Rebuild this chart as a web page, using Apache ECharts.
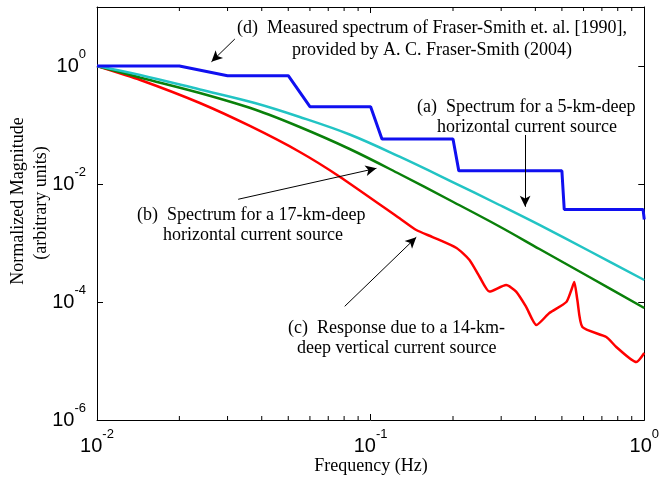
<!DOCTYPE html>
<html>
<head>
<meta charset="utf-8">
<script src="https://cdn.jsdelivr.net/npm/echarts@6/dist/echarts.min.js"></script>
<style>
html,body{margin:0;padding:0;background:#fff;}
#chart{width:662px;height:481px;}
</style>
</head>
<body>
<div id="chart"></div>
<script>
// ---- data ----
const freqAB = [0.01, 0.01436, 0.02376, 0.03772, 0.05507, 0.08383, 0.1276, 0.1942, 0.2957, 0.4139, 0.63, 1.0];
const magA = [1.0, 0.704, 0.3997, 0.236, 0.1367, 0.069, 0.02904, 0.01146, 0.004406, 0.00202, 0.000732, 0.000236];
const magB = [1.0, 0.6385, 0.3485, 0.1831, 0.0925, 0.0392, 0.01477, 0.005356, 0.001905, 0.000791, 0.000265, 0.0000791];
const freqC = [0.01, 0.0144, 0.02376, 0.0362, 0.0551, 0.0771, 0.1276, 0.1468, 0.1684, 0.206, 0.2298, 0.25, 0.2718, 0.3128, 0.3402, 0.37, 0.4035, 0.45, 0.519, 0.5415, 0.555, 0.5695, 0.594, 0.7266, 0.79, 0.935, 1.0];
const magC = [1.0, 0.579, 0.236, 0.0962, 0.0349, 0.0133, 0.00262, 0.00166, 0.00126, 0.000822, 0.000515, 0.000268, 0.00015, 0.000194, 0.00015, 0.000083, 0.0000407, 0.000065, 0.0001, 0.00016, 0.000218, 0.000108, 0.0000377, 0.0000255, 0.0000173, 0.0000096, 0.0000137];
const freqD = [0.01, 0.02, 0.03, 0.05, 0.06, 0.1, 0.11, 0.2, 0.21, 0.5, 0.51, 0.99, 1.0];
const magD = [1.0, 1.0, 0.686, 0.686, 0.204, 0.204, 0.058, 0.058, 0.0167, 0.0167, 0.0037, 0.0037, 0.0025];
const xMin = 0.01, xMax = 1;
const yMin = 1e-6, yMax = 10;
const xMinorTicks = [0.02,0.03,0.04,0.05,0.06,0.07,0.08,0.09,0.2,0.3,0.4,0.5,0.6,0.7,0.8,0.9];
// annotation arrows: [fromFreq, fromMag, toFreq, toMag]
const arrowD = [0.0319, 2.87, 0.0262, 1.18];
const arrowA = [0.367, 0.0678, 0.367, 0.00412];
const arrowB = [0.0328, 0.00551, 0.105, 0.01845];
const arrowC = [0.0804, 0.0000845, 0.1468, 0.00125];

const zip = (xs, ys) => xs.map((x, i) => [x, ys[i]]);
const serif = '"Liberation Serif", "Times New Roman", serif';
const sans = '"Liberation Sans", Arial, sans-serif';

function powLabel(v) {
  return Math.round(Math.log10(v));
}
const richLabel = {
  b: { fontFamily: sans, fontSize: 20, color: '#000', lineHeight: 36 },
  s: { fontFamily: sans, fontSize: 13, color: '#000', lineHeight: 13, verticalAlign: 'top' }
};

const chart = echarts.init(document.getElementById('chart'), null, { renderer: 'canvas' });

const axisCommon = {
  axisLine: { show: true, lineStyle: { color: '#000', width: 1 } },
  axisTick: { show: true, inside: true, length: 6, lineStyle: { color: '#000', width: 1 } },
  splitLine: { show: false },
  minorTick: { show: false },
  minorSplitLine: { show: false }
};

function arrowLine(a) {
  return [{ coord: [a[0], a[1]] }, { coord: [a[2], a[3]] }];
}

const txt = (text, x, y) => ({
  type: 'text', x: x, y: y, silent: true,
  style: { text: text, font: '18px ' + serif, fill: '#000', textAlign: 'left', textVerticalAlign: 'middle' }
});

chart.setOption({
  animation: false,
  backgroundColor: '#fff',
  grid: { left: 97, right: 17, top: 7, bottom: 61, containLabel: false },
  xAxis: [
    Object.assign({}, axisCommon, {
      type: 'log', logBase: 10, min: xMin, max: xMax, position: 'bottom',
      axisLabel: {
        show: true, margin: 8,
        formatter: v => '{b|10}{s|' + powLabel(v) + '}',
        rich: richLabel
      }
    }),
    Object.assign({}, axisCommon, {
      type: 'log', logBase: 10, min: xMin, max: xMax, position: 'top',
      axisLabel: { show: false }
    })
  ],
  yAxis: [
    Object.assign({}, axisCommon, {
      type: 'log', logBase: 10, min: yMin, max: yMax, interval: 2, position: 'left',
      axisLabel: {
        show: true, margin: 11,
        formatter: v => { const e = powLabel(v); return (e % 2 !== 0) ? '' : '{b|10}{s|' + e + '}'; },
        rich: richLabel
      }
    }),
    Object.assign({}, axisCommon, {
      type: 'log', logBase: 10, min: yMin, max: yMax, interval: 2, position: 'right',
      axisLabel: { show: false }
    })
  ],
  series: [
    {
      type: 'custom', xAxisIndex: 0, yAxisIndex: 0, silent: true, clip: false, z: 5,
      data: xMinorTicks.map(v => [v, yMin]),
      renderItem: function (params, api) {
        const pb = api.coord([api.value(0), yMin]);
        const pt = api.coord([api.value(0), yMax]);
        return {
          type: 'group', children: [
            { type: 'line', shape: { x1: pb[0], y1: pb[1], x2: pb[0], y2: pb[1] - 4 }, style: { stroke: '#000', lineWidth: 1 } },
            { type: 'line', shape: { x1: pt[0], y1: pt[1], x2: pt[0], y2: pt[1] + 4 }, style: { stroke: '#000', lineWidth: 1 } }
          ]
        };
      }
    },
    {
      name: '(c)', type: 'line', data: zip(freqC, magC), showSymbol: false, symbol: 'none', smooth: 0.2,
      lineStyle: { color: '#ff0000', width: 2.5 }, z: 2
    },
    {
      name: '(b)', type: 'line', data: zip(freqAB, magB), showSymbol: false, symbol: 'none', smooth: 0.35,
      lineStyle: { color: '#0a800a', width: 2.5 }, z: 3
    },
    {
      name: '(a)', type: 'line', data: zip(freqAB, magA), showSymbol: false, symbol: 'none', smooth: 0.35,
      lineStyle: { color: '#22c4c4', width: 2.5 }, z: 3
    },
    {
      name: '(d)', type: 'line', data: zip(freqD, magD), showSymbol: false, symbol: 'none',
      lineStyle: { color: '#1010f0', width: 3 }, z: 4,
      markLine: {
        silent: true, animation: false,
        symbol: ['none', 'arrow'], symbolSize: [8, 11],
        lineStyle: { color: '#000', width: 1, type: 'solid' },
        label: { show: false },
        emphasis: { disabled: true },
        data: [arrowLine(arrowD), arrowLine(arrowA), arrowLine(arrowB), arrowLine(arrowC)]
      }
    }
  ],
  graphic: [
    txt('(d)  Measured spectrum of Fraser-Smith et. al. [1990],', 237, 28),
    txt('provided by A. C. Fraser-Smith (2004)', 292, 50),
    txt('(a)  Spectrum for a 5-km-deep', 417, 107),
    txt('horizontal current source', 437, 127),
    txt('(b)  Spectrum for a 17-km-deep', 137, 215),
    txt('horizontal current source', 163, 235),
    txt('(c)  Response due to a 14-km-', 288, 328),
    txt('deep vertical current source', 297, 348),
    {
      type: 'text', x: 371, y: 466, silent: true,
      style: { text: 'Frequency (Hz)', font: '18px ' + serif, fill: '#000', textAlign: 'center', textVerticalAlign: 'middle' }
    },
    {
      type: 'text', x: 18, y: 201, rotation: Math.PI / 2, silent: true,
      style: { text: 'Normalized Magnitude', font: '18px ' + serif, fill: '#000', textAlign: 'center', textVerticalAlign: 'middle' }
    },
    {
      type: 'text', x: 41, y: 203, rotation: Math.PI / 2, silent: true,
      style: { text: '(arbitrary units)', font: '18px ' + serif, fill: '#000', textAlign: 'center', textVerticalAlign: 'middle' }
    }
  ]
});
</script>
</body>
</html>
